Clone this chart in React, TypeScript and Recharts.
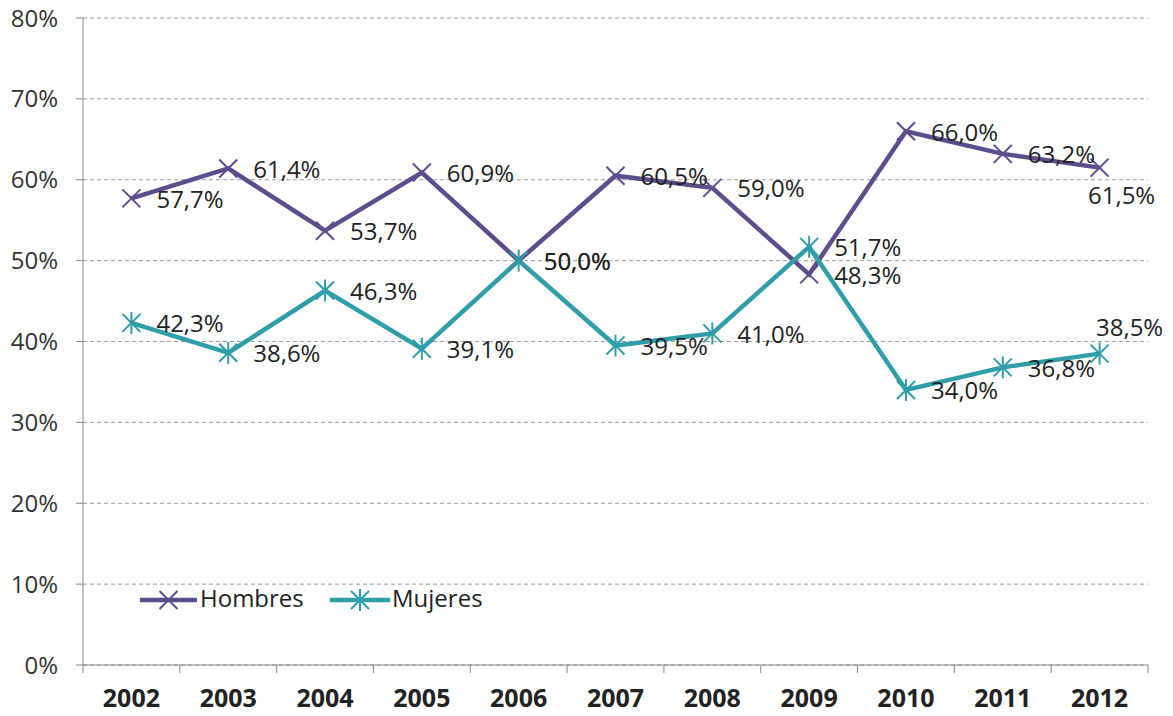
import React from 'react'
import { LineChart, Line, XAxis, YAxis, CartesianGrid, Legend } from 'recharts'

const years = ['2002', '2003', '2004', '2005', '2006', '2007', '2008', '2009', '2010', '2011', '2012']
const hombres = [57.7, 61.4, 53.7, 60.9, 50.0, 60.5, 59.0, 48.3, 66.0, 63.2, 61.5]
const mujeres = [42.3, 38.6, 46.3, 39.1, 50.0, 39.5, 41.0, 51.7, 34.0, 36.8, 38.5]
const yTicks = [0, 10, 20, 30, 40, 50, 60, 70, 80]

const HOMBRES_COLOR = '#5c4d8c'
const MUJERES_COLOR = '#2f9ea8'
const AXIS_COLOR = '#868686'
const FONT = '"Open Sans", sans-serif'

const data = years.map((year, i) => ({ year, hombres: hombres[i], mujeres: mujeres[i] }))

const fmt = (v: number) => v.toFixed(1).replace('.', ',') + '%'

function XMark({ cx, cy, color, star }: { cx: number; cy: number; color: string; star?: boolean }) {
  const r = 9
  return (
    <g>
      <line x1={cx - r} y1={cy - r} x2={cx + r} y2={cy + r} stroke={color} strokeWidth={2} />
      <line x1={cx - r} y1={cy + r} x2={cx + r} y2={cy - r} stroke={color} strokeWidth={2} />
      {star && <line x1={cx} y1={cy - r - 2} x2={cx} y2={cy + r + 2} stroke={color} strokeWidth={2} />}
    </g>
  )
}

const makeDot = (color: string, star: boolean) => (props: any) => {
  const { cx, cy, index } = props
  if (cx == null || cy == null) return <g key={index} />
  return (
    <g key={index}>
      <XMark cx={cx} cy={cy} color={color} star={star} />
    </g>
  )
}

// labels sit to the right of each point, except the last ones (below / above)
const makeLabel = (series: 'h' | 'm') => (props: any) => {
  const { x, y, value, index } = props
  let lx = x + 25
  let ly = y + 3
  let anchor: 'start' | 'middle' = 'start'
  if (index === years.length - 1) {
    anchor = 'middle'
    if (series === 'h') {
      lx = x + 22
      ly = y + 30
    } else {
      lx = x + 30
      ly = y - 24
    }
  }
  return (
    <text
      key={index}
      x={lx}
      y={ly}
      textAnchor={anchor}
      dominantBaseline="middle"
      fontSize={24}
      fontFamily={FONT}
      fill="#222"
    >
      {fmt(value)}
    </text>
  )
}

function YearTick(props: any) {
  const { x, y, payload, index, width, visibleTicksCount } = props
  const step = width && visibleTicksCount ? width / visibleTicksCount : 96.8
  return (
    <g>
      <line x1={x - step / 2} x2={x - step / 2} y1={y} y2={y + 8} stroke={AXIS_COLOR} />
      {index === visibleTicksCount - 1 && (
        <line x1={x + step / 2} x2={x + step / 2} y1={y} y2={y + 8} stroke={AXIS_COLOR} />
      )}
      <text
        x={x}
        y={y + 35}
        textAnchor="middle"
        dominantBaseline="middle"
        fontSize={25}
        fontWeight="bold"
        fontFamily={FONT}
        fill="#222"
      >
        {payload.value}
      </text>
    </g>
  )
}

function LegendContent() {
  const items = [
    { name: 'Hombres', color: HOMBRES_COLOR, star: false, x0: 5, x1: 62, tx: 65 },
    { name: 'Mujeres', color: MUJERES_COLOR, star: true, x0: 195, x1: 255, tx: 257 },
  ]
  return (
    <svg width={360} height={36}>
      {items.map((it) => (
        <g key={it.name}>
          <line x1={it.x0} x2={it.x1} y1={18} y2={18} stroke={it.color} strokeWidth={4.5} />
          <XMark cx={(it.x0 + it.x1) / 2} cy={18} color={it.color} star={it.star} />
          <text x={it.tx} y={19} dominantBaseline="middle" fontSize={24} fontFamily={FONT} fill="#222">
            {it.name}
          </text>
        </g>
      ))}
    </svg>
  )
}

export default function App() {
  return (
    <div style={{ position: 'absolute', left: 0, top: 0, width: 1173, height: 716, background: '#fff', fontFamily: FONT }}>
      <LineChart width={1173} height={716} data={data} margin={{ top: 18, right: 25, left: 0, bottom: 0 }}>
        <CartesianGrid vertical={false} stroke="#9a9a9a" strokeDasharray="4 3" />
        <XAxis
          dataKey="year"
          scale="band"
          height={51}
          axisLine={{ stroke: AXIS_COLOR }}
          tickLine={false}
          tickSize={0}
          tickMargin={0}
          interval={0}
          tick={<YearTick />}
        />
        <YAxis
          domain={[0, 80]}
          ticks={yTicks}
          width={83}
          axisLine={{ stroke: AXIS_COLOR }}
          tickLine={{ stroke: AXIS_COLOR }}
          tickSize={7}
          tickMargin={18}
          tickFormatter={(v) => `${v}%`}
          tick={{ fontSize: 24, fill: '#333', fontFamily: FONT }}
        />
        <YAxis
          yAxisId="border"
          orientation="right"
          domain={[0, 80]}
          width={0}
          tick={false}
          tickLine={false}
          axisLine={{ stroke: AXIS_COLOR }}
        />
        <Legend
          layout="horizontal"
          verticalAlign="middle"
          align="center"
          content={<LegendContent />}
          wrapperStyle={{ left: 135, top: 582, width: 360 }}
        />
        <Line
          dataKey="hombres"
          name="Hombres"
          stroke={HOMBRES_COLOR}
          strokeWidth={4.5}
          dot={makeDot(HOMBRES_COLOR, false)}
          activeDot={false}
          label={makeLabel('h')}
          isAnimationActive={false}
        />
        <Line
          dataKey="mujeres"
          name="Mujeres"
          stroke={MUJERES_COLOR}
          strokeWidth={4.5}
          dot={makeDot(MUJERES_COLOR, true)}
          activeDot={false}
          label={makeLabel('m')}
          isAnimationActive={false}
        />
      </LineChart>
    </div>
  )
}
